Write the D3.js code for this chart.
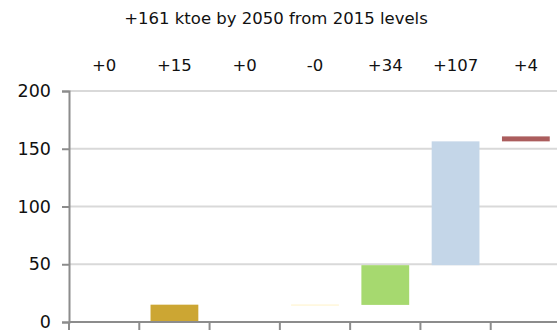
<!DOCTYPE html>
<html lang="en">
<head>
    <meta charset="UTF-8">
    <title>Waterfall</title>
    <style>
        body { margin: 0; background: #fff; }
        text { font-family: "DejaVu Sans", sans-serif; fill: #111; }
    </style>
</head>
<body>
<script src="https://d3js.org/d3.v7.min.js"></script>
<script>
    let w = 557, h = 331;

    // data
    let categories = ["c1", "c2", "c3", "c4", "c5", "c6", "c7"];
    let changes = [0.1, 14.9, 0.1, -0.3, 34.4, 107.2, 4.3];
    let labels = ["+0", "+15", "+0", "-0", "+34", "+107", "+4"];
    let colors = ["#f2dcdb", "#cca633", "#e6e6e6", "#fff2c6", "#a6d96f", "#c4d6e8", "#ab5d5d"];
    let yTicks = [0, 50, 100, 150, 200];
    let title = "+161 ktoe by 2050 from 2015 levels";

    let inner = {left: 69, right: -4, top: 91, bottom: 9};

    let svg = d3.select("body")
        .append("svg")
        .attr("width", w)
        .attr("height", h);

    let x = d3.scaleBand()
        .domain(categories)
        .range([inner.left, w - inner.right])
        .paddingInner(0.32)
        .paddingOuter(0.16);

    let y = d3.scaleLinear()
        .domain([0, 200])
        .range([h - inner.bottom, inner.top]);

    // cumulative start / end of each step
    let steps = [];
    let acc = 0;
    for (let i = 0; i < changes.length; ++i) {
        steps.push({cat: categories[i], from: acc, to: acc + changes[i], color: colors[i], label: labels[i]});
        acc += changes[i];
    }

    // gridlines
    svg.append("g")
        .selectAll("line")
        .data(yTicks.filter(d => d > 0))
        .enter()
        .append("line")
        .attr("x1", inner.left)
        .attr("x2", w)
        .attr("y1", d => y(d))
        .attr("y2", d => y(d))
        .style("stroke", "#d9d9d9")
        .style("stroke-width", 2);

    // bars (steps under 0.2 are not drawn)
    svg.append("g")
        .selectAll("rect")
        .data(steps.filter(d => Math.abs(d.to - d.from) > 0.2))
        .enter()
        .append("rect")
        .attr("x", d => x(d.cat))
        .attr("width", x.bandwidth())
        .attr("y", d => y(Math.max(d.from, d.to)))
        .attr("height", d => Math.max(1, Math.abs(y(d.from) - y(d.to))))
        .attr("fill", d => d.color);

    // y axis
    let yAxis = svg.append("g")
        .attr("transform", "translate(" + inner.left + ",0)")
        .call(d3.axisLeft(y).tickValues(yTicks).tickSize(7).tickPadding(11));
    yAxis.selectAll("text").style("font-size", "17.5px");
    yAxis.selectAll("line, path").style("stroke", "#8c8c8c").style("stroke-width", 2);

    // x axis with ticks on band edges
    let bx = svg.append("g");
    bx.append("line")
        .attr("x1", inner.left)
        .attr("x2", w)
        .attr("y1", y(0))
        .attr("y2", y(0))
        .style("stroke", "#8c8c8c")
        .style("stroke-width", 2);
    let step = x.step();
    let edges = categories.map((c, i) => x(c) - x.paddingInner() * step / 2);
    bx.selectAll("line.tk")
        .data(edges)
        .enter()
        .append("line")
        .attr("class", "tk")
        .attr("x1", d => d)
        .attr("x2", d => d)
        .attr("y1", y(0))
        .attr("y2", y(0) + 8)
        .style("stroke", "#8c8c8c")
        .style("stroke-width", 2);

    // labels above plot
    svg.append("g")
        .selectAll("text")
        .data(steps)
        .enter()
        .append("text")
        .attr("x", d => x(d.cat) + x.bandwidth() / 2)
        .attr("y", 71)
        .attr("text-anchor", "middle")
        .style("font-size", "16.5px")
        .text(d => d.label);

    svg.append("text")
        .attr("x", 276)
        .attr("y", 24)
        .attr("text-anchor", "middle")
        .style("font-size", "16.5px")
        .text(title);
</script>
</body>
</html>
